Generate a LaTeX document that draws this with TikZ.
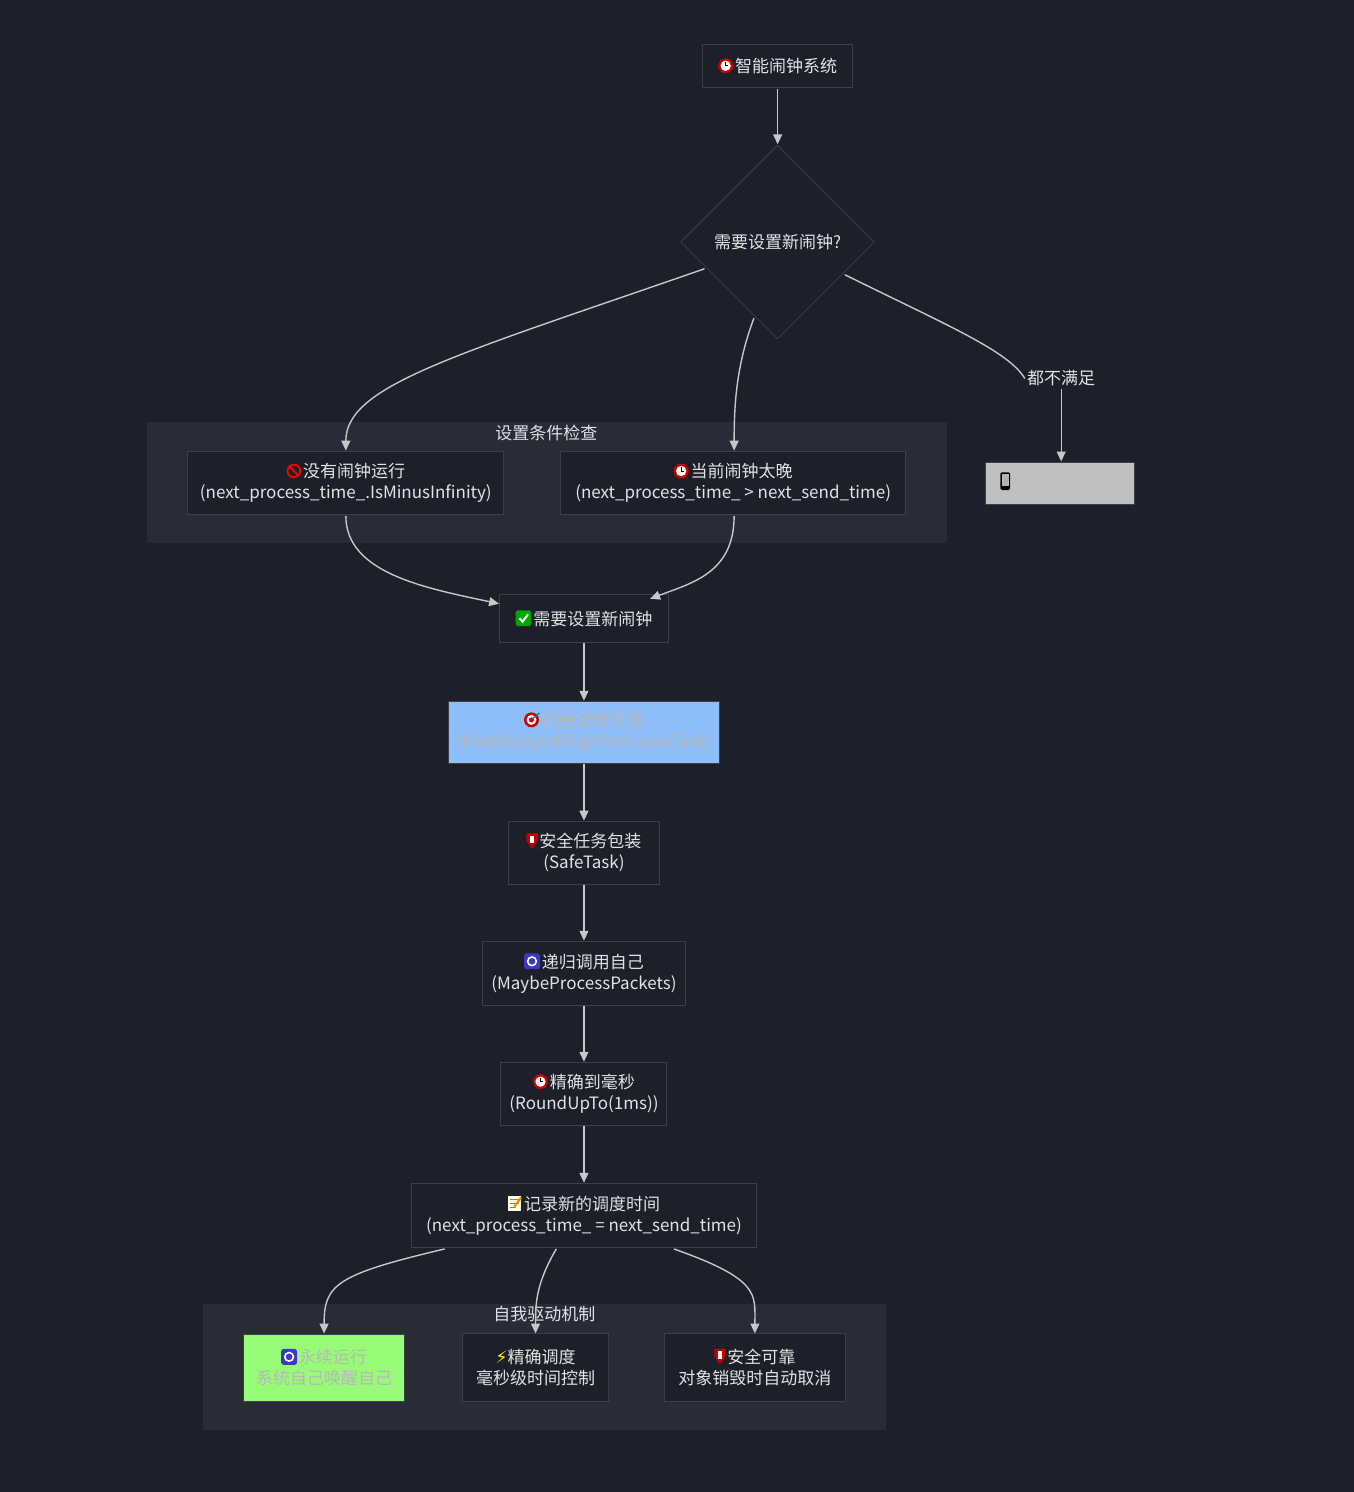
\documentclass[tikz,border=0pt]{standalone}
\usepackage{fontspec}
\setmainfont{Noto Sans CJK SC}
\newfontfamily\djfont{DejaVu Sans}
\usetikzlibrary{shapes.geometric,arrows.meta}
\definecolor{bg}{HTML}{1E2029}
\definecolor{cl}{HTML}{292C37}
\definecolor{bd}{HTML}{3C3F4A}
\definecolor{ln}{HTML}{C8C8C8}
\definecolor{tx}{HTML}{E2E2E2}
\newcommand{\ic}[2]{{\djfont\color{#1}#2}}
\newcommand{\icn}[1]{\tikz[x=1pt,y=1pt,baseline=-0.5pt,line width=0.6pt]{#1}\hspace{1pt}}
\newcommand{\iclock}{\icn{\fill[red!80!black] (0,3) circle (3.8pt);\fill[white] (0,3) circle (2.6pt);\draw[black,line width=0.4pt] (0,3)--(0,5)(0,3)--(1.4,3);}}
\newcommand{\ino}{\icn{\draw[red,line width=0.9pt] (0,3) circle (3.2pt) (-2.2,5.2)--(2.2,0.8);}}
\newcommand{\icheck}{\icn{\fill[green!65!black,rounded corners=1pt] (-4,-1) rectangle (4,7);\draw[white,line width=1pt] (-2,3)--(-0.5,1.3)--(2.3,5);}}
\newcommand{\itarget}{\icn{\fill[red!80!black] (0,3) circle (3.8pt);\fill[white] (0,3) circle (2.5pt);\fill[red!80!black] (0,3) circle (1.3pt);\draw[teal] (0,3)--(4,6.5);}}
\newcommand{\ishield}{\icn{\fill[red!75!black] (-2.8,7)--(2.8,7)--(2.8,3)--(0,-1)--(-2.8,3)--cycle;\fill[white] (-1,5.8) rectangle (1,2);}}
\newcommand{\irefresh}{\icn{\fill[blue!55!gray,rounded corners=1.2pt] (-4,-1) rectangle (4,7);\draw[white,line width=0.8pt] (0,3) circle (2.2pt);}}
\newcommand{\imemo}{\icn{\fill[white!85!yellow] (-3.3,-1) rectangle (3.3,7);\draw[gray,line width=0.4pt] (-2.3,5)--(2.3,5)(-2.3,3)--(2.3,3)(-2.3,1)--(1,1);\draw[orange,line width=1pt] (3.5,6)--(0,1.5);}}
\newcommand{\iphone}{\icn{\fill[black,rounded corners=0.8pt] (-2.5,-1.5) rectangle (2.5,7.5);\fill[gray!60] (-1.8,0.5) rectangle (1.8,6.5);}}
\begin{document}
\begin{tikzpicture}[x=0.5pt,y=-0.5pt,font=\fontsize{8.6}{10.6}\selectfont,
  box/.style={draw=bd,fill=bg,text=tx,align=center,line width=0.5pt},
  e/.style={draw=ln,line width=0.7pt,-{Triangle[length=5pt,width=4.5pt]}},
  cluster/.style={fill=cl,draw=none}]
\fill[bg] (-10,-10) rectangle (1360,1500);
\useasboundingbox (0,0) rectangle (1344,1492);
\fill[cluster] (139,417) rectangle (948,540);
\fill[cluster] (195,1310) rectangle (887,1437);
\node[text=tx] (c1) at (543,428) {设置条件检查};
\node[box,minimum width=76pt,minimum height=22pt] (t) at (777,57) {\iclock 智能闹钟系统};
\node[draw=bd,fill=bg,text=tx,diamond,minimum width=98pt,minimum height=98pt,inner sep=0pt] (d) at (777,235) {需要设置新闹钟?};
\node[box,minimum width=160pt,minimum height=32pt] (a) at (340,479) {\ino 没有闹钟运行\\(next\_process\_time\_.IsMinusInfinity)};
\node[box,minimum width=174.5pt,minimum height=32pt] (b) at (732,479) {\iclock 当前闹钟太晚\\(next\_process\_time\_ > next\_send\_time)};
\node[draw=bd,fill={rgb,255:red,192;green,192;blue,192},minimum width=75.5pt,minimum height=21pt,inner sep=0pt] (g) at (1063,479) {};
\node[anchor=west,inner sep=0pt] (gi) at (1002,477) {\iphone};
\node[box,minimum width=85.5pt,minimum height=24.5pt] (c) at (581,616) {\icheck 需要设置新闹钟};
\node[draw=bd,fill={rgb,255:red,143;green,191;blue,250},text={rgb,255:red,184;green,184;blue,184},align=center,minimum width=137.5pt,minimum height=31.5pt] (p) at (581,731) {\itarget 创建定时任务\\(PostDelayedHighPrecisionTask)};
\node[box,minimum width=76pt,minimum height=32pt] (s) at (581,853) {\ishield 安全任务包装\\(SafeTask)};
\node[box,minimum width=103pt,minimum height=32.5pt] (r) at (581,975) {\irefresh 递归调用自己\\(MaybeProcessPackets)};
\node[box,minimum width=84pt,minimum height=32pt] (u) at (581,1097) {\iclock 精确到毫秒\\(RoundUpTo(1ms))};
\node[box,minimum width=174.5pt,minimum height=32.5pt] (w) at (581,1220) {\imemo 记录新的调度时间\\(next\_process\_time\_ = next\_send\_time)};
\node[text=tx] (c2) at (541,1320) {自我驱动机制};
\node[draw=bd,fill={rgb,255:red,152;green,251;blue,120},text={rgb,255:red,184;green,184;blue,184},align=center,minimum width=81.5pt,minimum height=34pt] (k) at (318,1374) {\irefresh 永续运行\\系统自己唤醒自己};
\node[box,minimum width=73.5pt,minimum height=34pt] (m) at (532,1374) {\ic{yellow}{⚡}精确调度\\毫秒级时间控制};
\node[box,minimum width=91.5pt,minimum height=34pt] (n) at (754,1374) {\ishield 安全可靠\\对象销毁时自动取消};
\node[text=tx,fill=bg,inner sep=1pt] (lb) at (1064,373) {都不满足};
\coordinate (t1) at (777,80); \coordinate (d1) at (777,136);
\draw[e] (t1) -- (d1);
\coordinate (dA) at (703,262); \coordinate (aT) at (340,446);
\draw[e] (dA) .. controls (450,350) and (340,380) .. (aT);
\coordinate (dB) at (753,312); \coordinate (bT) at (733,446);
\draw[e] (dB) .. controls (735,360) and (733,400) .. (bT);
\coordinate (dG) at (845,268); \coordinate (gT) at (1064,457);
\draw[line width=0.7pt,draw=ln] (dG) .. controls (950,320) and (1010,345) .. (lb.west);
\draw[e] (lb.south) .. controls (1064,395) and (1064,420) .. (gT);
\coordinate (aB) at (340,512); \coordinate (cL) at (495,601);
\draw[e] (aB) .. controls (340,570) and (420,585) .. (cL);
\coordinate (bB) at (733,512); \coordinate (cR) at (648,596);
\draw[e] (bB) .. controls (733,570) and (690,580) .. (cR);
\draw[e] (c.south) -- (p.north);
\draw[e] (p.south) -- (s.north);
\draw[e] (s.south) -- (r.north);
\draw[e] (r.south) -- (u.north);
\draw[e] (u.south) -- (w.north);
\coordinate (w1) at (440,1254); \coordinate (w2) at (553,1254); \coordinate (w3) at (672,1254);
\draw[e] (w1) .. controls (330,1280) and (318,1290) .. (k.north);
\draw[e] (w2) .. controls (532,1290) and (532,1310) .. (m.north);
\draw[e] (w3) .. controls (760,1285) and (754,1300) .. (n.north);
\end{tikzpicture}
\end{document}
